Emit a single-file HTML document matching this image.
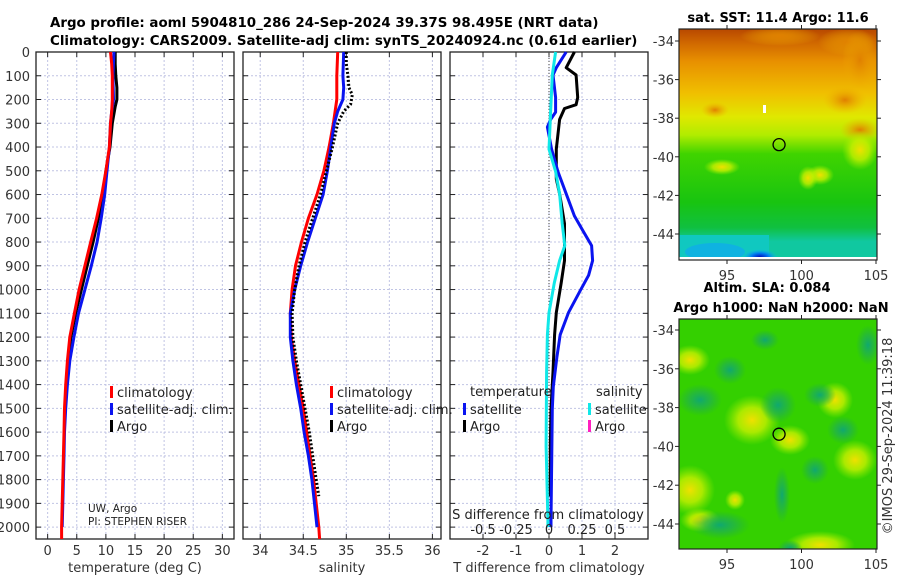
<!DOCTYPE html>
<html><head><meta charset="utf-8"><style>
html,body{margin:0;padding:0;background:#fff;width:900px;height:580px;overflow:hidden}
svg{display:block;font-family:"DejaVu Sans","Liberation Sans",sans-serif}
</style></head><body>
<svg id="fig" width="900" height="580" viewBox="0 0 900 580">
<defs>
<linearGradient id="sstGrad" x1="0" y1="0" x2="0" y2="1">
<stop offset="0" stop-color="#b84800"/><stop offset="0.06" stop-color="#d06800"/><stop offset="0.14" stop-color="#e89000"/>
<stop offset="0.28" stop-color="#f0c000"/><stop offset="0.38" stop-color="#e0e800"/><stop offset="0.46" stop-color="#b0ec00"/>
<stop offset="0.54" stop-color="#40d400"/><stop offset="0.75" stop-color="#18c410"/><stop offset="0.86" stop-color="#10c040"/>
<stop offset="0.92" stop-color="#10c8a0"/><stop offset="1" stop-color="#10c8a0"/></linearGradient>
<radialGradient id="blobY"><stop offset="0" stop-color="#f0e000"/><stop offset="0.5" stop-color="#c8f000" stop-opacity="0.8"/><stop offset="1" stop-color="#a0f000" stop-opacity="0"/></radialGradient>
<radialGradient id="blobD"><stop offset="0" stop-color="#10a870"/><stop offset="0.5" stop-color="#20b050" stop-opacity="0.7"/><stop offset="1" stop-color="#20b040" stop-opacity="0"/></radialGradient>
<radialGradient id="blobO"><stop offset="0" stop-color="#e08000"/><stop offset="1" stop-color="#f0b000" stop-opacity="0"/></radialGradient>
<radialGradient id="blobB"><stop offset="0" stop-color="#0010c0"/><stop offset="0.5" stop-color="#0080f0"/><stop offset="1" stop-color="#10c0e0" stop-opacity="0"/></radialGradient>
</defs>
<g id="titles" font-weight="bold" font-size="13.4" fill="#000">
<text x="50" y="27">Argo profile: aoml 5904810_286 24-Sep-2024 39.37S 98.495E (NRT data)</text>
<text x="50" y="45">Climatology: CARS2009. Satellite-adj clim: synTS_20240924.nc (0.61d earlier)</text>
</g>
<g id="panels"></g>
<g id="maps"></g>
</svg>
<script>
// ---- data ----
const depthTicks = [0,100,200,300,400,500,600,700,800,900,1000,1100,1200,1300,1400,1500,1600,1700,1800,1900,2000];
const tTicks = [0,5,10,15,20,25,30];
const sTicks = [34,34.5,35,35.5,36];
const dTicks = [-2,-1,0,1,2];
const sdTicks = [-0.5,-0.25,0,0.25,0.5];

const tClimDepth = [0,50,100,200,250,300,400,500,600,700,800,900,1000,1100,1200,1300,1400,1500,1600,1700,1800,1900,2000,2050];
const tClim = [10.8,11.0,11.1,11.1,11.0,10.8,10.6,10.0,9.3,8.4,7.4,6.4,5.4,4.6,3.8,3.4,3.1,2.9,2.8,2.7,2.6,2.5,2.4,2.4];
const tSatDepth = [0,100,200,250,300,400,500,600,700,800,900,1000,1100,1200,1300,1400,1500,1600,1700,1800,1900,2000];
const tSat = [11.4,11.2,11.3,11.0,10.8,10.6,10.2,9.8,9.2,8.5,7.5,6.4,5.3,4.5,3.8,3.4,3.1,2.9,2.8,2.7,2.6,2.5];
const tArgoDepth = [0,50,100,150,200,230,300,400,500,600,700,800,900,1000,1100,1200,1300];
const tArgo = [11.6,11.6,11.7,11.9,11.9,11.6,11.1,10.7,10.0,9.5,8.7,7.8,6.8,5.8,4.8,4.0,3.5];

const sClimDepth = [0,100,200,300,400,500,600,700,800,900,1000,1100,1200,1300,1400,1500,1600,1700,1800,1900,2000,2050];
const sClim = [34.90,34.89,34.89,34.85,34.80,34.74,34.66,34.56,34.48,34.41,34.37,34.35,34.36,34.40,34.45,34.50,34.54,34.58,34.62,34.65,34.68,34.69];
const sSatDepth = [0,100,150,200,250,300,400,500,600,700,800,900,1000,1100,1200,1300,1400,1500,1600,1700,1800,1900,2000];
const sSat = [34.97,34.96,34.97,34.96,34.90,34.86,34.82,34.78,34.73,34.64,34.55,34.47,34.40,34.35,34.35,34.38,34.42,34.47,34.51,34.56,34.60,34.63,34.66];
const sArgoDepth = [0,50,100,150,180,220,250,300,400,500,600,700,800,900,1000,1100,1200,1300,1400,1500,1600,1700,1800,1870];
const sArgo = [35.0,35.0,35.02,35.03,35.07,35.05,34.97,34.90,34.84,34.77,34.70,34.61,34.52,34.45,34.40,34.37,34.38,34.42,34.47,34.52,34.57,34.61,34.65,34.68];

const dTSatDepth = [0,66,97,191,253,284,316,409,503,597,690,753,815,878,940,1003,1097,1190,1284,1409,1503,1970,2000];
const dTSat = [0.52,0.22,0.12,0.2,0.2,0.05,-0.05,0.08,0.27,0.52,0.77,1.03,1.29,1.32,1.2,0.95,0.59,0.34,0.24,0.13,0.1,0.06,0.06];
const dTArgoDepth = [0,66,97,191,222,238,284,409,534,597,722,878,972,1097,1190,1346,1503,1659,1815,1870];
const dTArgo = [0.77,0.52,0.82,0.87,0.82,0.47,0.32,0.22,0.22,0.32,0.47,0.47,0.37,0.22,0.17,0.12,0.06,0.04,0.04,0.04];
const dSSatDepth = [0,97,253,409,503,597,722,815,878,972,1097,1190,1346,1659,1970,2000];
const dSSat = [0.05,0.025,0.012,0,0.05,0.08,0.1,0.12,0.08,0.04,0,-0.012,-0.018,-0.022,-0.008,-0.008];

const latTicks = [-34,-36,-38,-40,-42,-44];
const lonTicks = [95,100,105];

// ---- helpers ----
const NS = "http://www.w3.org/2000/svg";
function mk(tag, attrs, parent){const e=document.createElementNS(NS,tag);for(const k in attrs)e.setAttribute(k,attrs[k]);parent.appendChild(e);return e;}
const Y0=52, Y1=539, DMAX=2050;
function yD(d){return Y0+(Y1-Y0)*d/DMAX;}
const panelsG=document.getElementById('panels');

function panel(name,x0,x1,xmin,xmax,xt,xlabel,showDepth){
  const g=mk('g',{},panelsG);
  
  
  const xs=v=>x0+(x1-x0)*(v-xmin)/(xmax-xmin);
  depthTicks.forEach(d=>{const l=mk('line',{x1:x0,x2:x1,y1:yD(d),y2:yD(d),stroke:'#c0c4e4','stroke-width':1,'stroke-dasharray':'2,2'},g);
    });
  xt.forEach(v=>{const l=mk('line',{x1:xs(v),x2:xs(v),y1:Y0,y2:Y1,stroke:'#c0c4e4','stroke-width':1,'stroke-dasharray':'2,2'},g);
    });
  depthTicks.forEach(d=>{mk('line',{x1:x0,x2:x0+5,y1:yD(d),y2:yD(d),stroke:'#222'},g);mk('line',{x1:x1-5,x2:x1,y1:yD(d),y2:yD(d),stroke:'#222'},g);
    if(showDepth){const t=mk('text',{x:x0-6,y:yD(d)+5,'text-anchor':'end','font-size':13,fill:'#333'},g);t.textContent=d;
      }});
  xt.forEach(v=>{mk('line',{x1:xs(v),x2:xs(v),y1:Y1,y2:Y1-5,stroke:'#222'},g);mk('line',{x1:xs(v),x2:xs(v),y1:Y0,y2:Y0+5,stroke:'#222'},g);});
  const fr=mk('rect',{x:x0,y:Y0,width:x1-x0,height:Y1-Y0,fill:'none',stroke:'#222','stroke-width':1.3},g);
  
  const xl=mk('text',{x:(x0+x1)/2,y:572,'text-anchor':'middle','font-size':13,fill:'#333'},g);xl.textContent=xlabel;
  
  return {g,xs};
}
function line(p,xsF,vals,deps,color,name,dash,w){
  const pts=vals.map((v,i)=>xsF(v).toFixed(1)+','+yD(deps[i]).toFixed(1)).join(' ');
  const a={points:pts,fill:'none',stroke:color,'stroke-width':w||3,'stroke-linejoin':'round'};
  if(dash)a['stroke-dasharray']=dash;
  const l=mk('polyline',a,p.g);
  
  
}
function tickLabels(p,xt){xt.forEach(v=>{const t=mk('text',{x:p.xs(v),y:555,'text-anchor':'middle','font-size':13,fill:'#333'},p.g);t.textContent=v;
  });}
function legend(g,x,y,items){items.forEach((it,i)=>{
  const yy=y+i*17;
  const r=mk('rect',{x:x,y:yy-10,width:3,height:12,fill:it[1]},g);
  
  const t=mk('text',{x:x+7,y:yy+1,'font-size':13,fill:'#222'},g);t.textContent=it[0];
  });}

const p1=panel('temperature-panel',36,234,-2,32,tTicks,'temperature (deg C)',true);
tickLabels(p1,tTicks);
line(p1,p1.xs,tArgo,tArgoDepth,'#000','argo-temperature-line');
line(p1,p1.xs,tSat,tSatDepth,'#0a14f0','satellite-temperature-line');
line(p1,p1.xs,tClim,tClimDepth,'#f00','climatology-temperature-line');
legend(p1.g,110,396,[['climatology','#f00'],['satellite-adj. clim.','#0a14f0'],['Argo','#000']]);
const pi1=mk('text',{x:88,y:512,'font-size':10.5,fill:'#222'},p1.g);pi1.textContent='UW, Argo';

const pi2=mk('text',{x:88,y:525,'font-size':10.5,fill:'#222'},p1.g);pi2.textContent='PI: STEPHEN RISER';


const p2=panel('salinity-panel',243,441,33.8,36.1,sTicks,'salinity',false);
tickLabels(p2,sTicks);
line(p2,p2.xs,sClim,sClimDepth,'#f00','climatology-salinity-line');
line(p2,p2.xs,sSat,sSatDepth,'#0a14f0','satellite-salinity-line');
line(p2,p2.xs,sArgo,sArgoDepth,'#000','argo-salinity-line','2,2',3);
legend(p2.g,330,396,[['climatology','#f00'],['satellite-adj. clim.','#0a14f0'],['Argo','#000']]);

const p3=panel('difference-panel',450,648,-3,3,dTicks,'T difference from climatology',false);
tickLabels(p3,dTicks);
const sx=v=>p3.xs(v*4);
const zl=mk('line',{x1:p3.xs(0),x2:p3.xs(0),y1:Y0,y2:Y1,stroke:'#444','stroke-width':1,'stroke-dasharray':'1,2'},p3.g);

line(p3,p3.xs,dTArgo,dTArgoDepth,'#000','argo-temperature-difference-line');
line(p3,p3.xs,dTSat,dTSatDepth,'#0a14f0','satellite-temperature-difference-line');
line(p3,sx,dSSat,dSSatDepth,'#10e8e8','satellite-salinity-difference-line');
const th=mk('text',{x:470,y:396,'font-size':13,fill:'#222'},p3.g);th.textContent='temperature';

const sh=mk('text',{x:596,y:396,'font-size':13,fill:'#222'},p3.g);sh.textContent='salinity';

legend(p3.g,463,413,[['satellite','#0a14f0'],['Argo','#000']]);
legend(p3.g,588,413,[['satellite','#10e8e8'],['Argo','#ff20c0']]);
const sdl=mk('text',{x:548,y:519,'text-anchor':'middle','font-size':13,fill:'#222'},p3.g);sdl.textContent='S difference from climatology';

sdTicks.forEach(v=>{const t=mk('text',{x:sx(v),y:534,'text-anchor':'middle','font-size':13,fill:'#222'},p3.g);t.textContent=String(v);
  });

const mapsG=document.getElementById('maps');
function mapPanel(name,y0,y1,latTopY,latBotY,titleLines,sst){
  const g=mk('g',{},mapsG);
  
  
  const x0=679,x1=877;
  const lonX=v=>727+(v-95)*(876-727)/10;
  const latY=v=>latTopY+(v+34)*(latBotY-latTopY)/(-10);
  const clipId=name+'-clip';
  const cp=mk('clipPath',{id:clipId},g);mk('rect',{x:x0,y:y0,width:x1-x0,height:y1-y0},cp);
  const inner=mk('g',{'clip-path':'url(#'+clipId+')'},g);
  if(sst){
    mk('rect',{x:x0,y:y0,width:x1-x0,height:y1-y0,fill:'url(#sstGrad)'},inner);
    [[848,42,30,14],[780,36,40,10],[845,100,22,14],[860,60,18,30],[715,110,14,8],[860,130,20,12]].forEach(b=>mk('ellipse',{cx:b[0],cy:b[1],rx:b[2],ry:b[3],fill:'url(#blobO)'},inner));
    [[820,175,14,10],[722,167,18,8],[860,150,18,20],[808,178,10,12]].forEach(b=>mk('ellipse',{cx:b[0],cy:b[1],rx:b[2],ry:b[3],fill:'url(#blobY)'},inner));
    mk('rect',{x:x0,y:y1-25,width:90,height:25,fill:'#10c8c0'},inner);
    mk('ellipse',{cx:760,cy:y1-3,rx:18,ry:8,fill:'url(#blobB)'},inner);
    mk('ellipse',{cx:715,cy:y1-8,rx:30,ry:9,fill:'#10a8f0','fill-opacity':0.7},inner);
    mk('rect',{x:x0,y:y1-3,width:x1-x0,height:3,fill:'#fff'},inner);
    mk('rect',{x:763,y:105,width:3,height:8,fill:'#fff'},inner);
  } else {
    mk('rect',{x:x0,y:y0,width:x1-x0,height:y1-y0,fill:'#34d000'},inner);
    [[752,420,28,25],[835,400,18,18],[690,490,25,25],[735,500,10,10],[820,545,35,14],[700,520,20,12],[855,460,22,20],[690,360,20,15],[790,440,20,15]].forEach(b=>mk('ellipse',{cx:b[0],cy:b[1],rx:b[2],ry:b[3],fill:'url(#blobY)'},inner));
    [[700,400,22,16],[730,370,16,14],[778,405,18,18],[820,395,16,12],[843,430,16,14],[815,470,14,14],[782,495,8,28],[720,525,30,14],[868,345,12,20],[765,340,14,10],[790,548,12,8]].forEach(b=>mk('ellipse',{cx:b[0],cy:b[1],rx:b[2],ry:b[3],fill:'url(#blobD)'},inner));
  }
  const c=mk('ellipse',{cx:lonX(98.495),cy:latY(-39.37),rx:6,ry:6,fill:'none',stroke:'#000','stroke-width':1.3},g);
  
  const fr=mk('rect',{x:x0,y:y0,width:x1-x0,height:y1-y0,fill:'none',stroke:'#222','stroke-width':1.2},g);
  
  latTicks.forEach(v=>{const y=latY(v);mk('line',{x1:x0-4,x2:x0,y1:y,y2:y,stroke:'#222'},g);mk('line',{x1:x1,x2:x1+4,y1:y,y2:y,stroke:'#222'},g);
    const t=mk('text',{x:x0-5,y:y+5,'text-anchor':'end','font-size':13,fill:'#333'},g);t.textContent=v;
    });
  lonTicks.forEach(v=>{const x=lonX(v);mk('line',{x1:x,x2:x,y1:y1,y2:y1+4,stroke:'#222'},g);mk('line',{x1:x,x2:x,y1:y0-4,y2:y0,stroke:'#222'},g);
    const t=mk('text',{x:x,y:y1+20,'text-anchor':'middle','font-size':13,fill:'#333'},g);t.textContent=v;
    });
  titleLines.forEach(s=>{const t=mk('text',{x:s[1],y:s[2],'text-anchor':'middle','font-size':13,'font-weight':'bold',fill:'#000'},g);t.textContent=s[0];
    });
}
mapPanel('sst-map',29,260,41,234,[['sat. SST: 11.4 Argo: 11.6',778,22]],true);
mapPanel('sla-map',319,549,330,524,[['Altim. SLA: 0.084',767,292],['Argo h1000: NaN h2000: NaN',781,312]],false);
const cr=mk('text',{x:0,y:0,'font-size':13,fill:'#333',transform:'translate(892,436) rotate(-90)','text-anchor':'middle'},mapsG);
cr.textContent='©IMOS 29-Sep-2024 11:39:18';


</script>
</body></html>
